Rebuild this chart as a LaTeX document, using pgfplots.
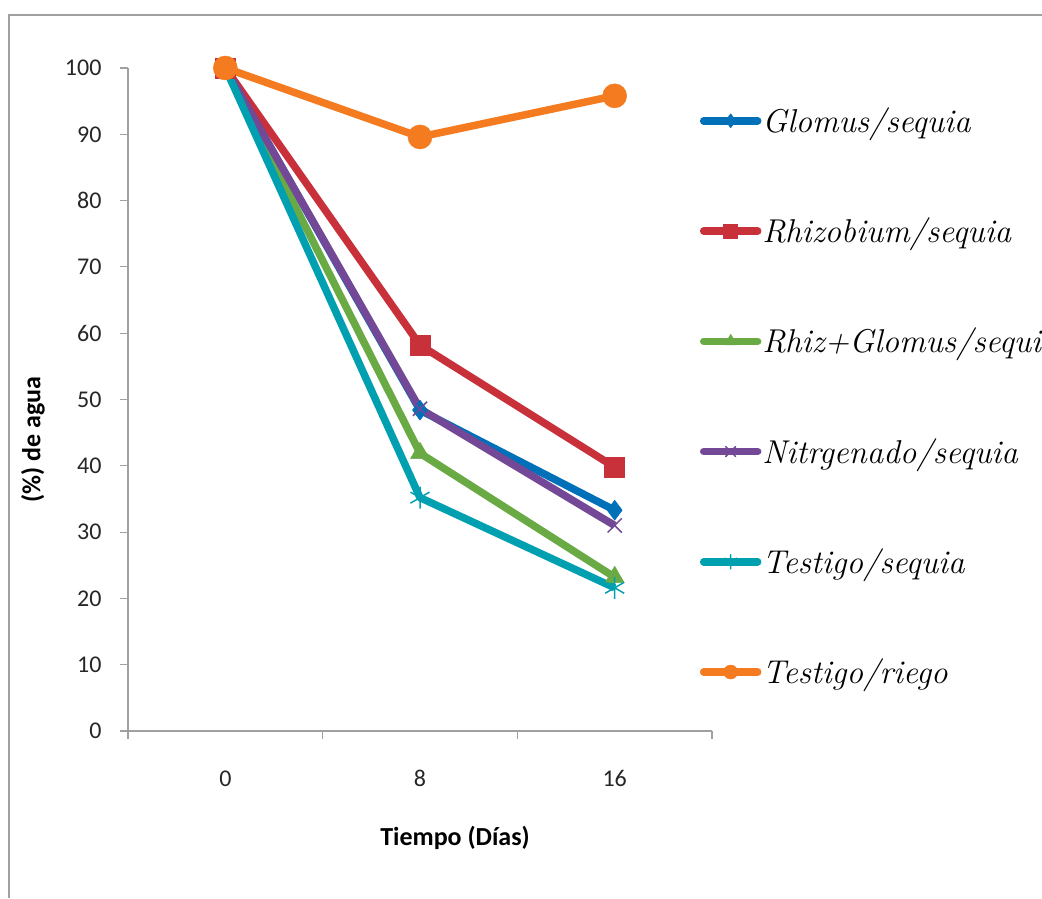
\documentclass[border=0pt]{standalone}
\usepackage{fontspec}
\usepackage{pgfplots}
\pgfplotsset{compat=1.18}
\usetikzlibrary{plotmarks}
\newfontfamily\carlito{Carlito}
\definecolor{cBlue}{HTML}{0070B8}
\definecolor{cRed}{HTML}{C8303A}
\definecolor{cGreen}{HTML}{6AAA45}
\definecolor{cPurple}{HTML}{734896}
\definecolor{cTeal}{HTML}{00A0B0}
\definecolor{cOrange}{HTML}{F47B20}
\definecolor{axgray}{HTML}{A0A0A0}
\begin{document}
\begin{tikzpicture}[x=1pt,y=1pt]
\useasboundingbox (0,0) rectangle (1042,898);
\draw[axgray, line width=1.6pt] (9,0) -- (9,883) -- (1042,883);
\begin{axis}[
  at={(128pt,167pt)}, anchor=south west,
  scale only axis, width=584pt, height=663pt,
  xmin=-0.5, xmax=2.5, ymin=0, ymax=100,
  axis x line*=bottom, axis y line*=left,
  axis line style={axgray, line width=1.2pt},
  xtick={-0.5,0.5,1.5,2.5}, xticklabels={},
  extra x ticks={0,1,2}, extra x tick labels={0,8,16},
  extra x tick style={major tick length=0pt, tick label style={yshift=-36pt}},
  ytick={0,10,...,100},
  tick style={axgray, line width=1.2pt},
  major tick length=8pt,
  tick align=outside,
  /pgf/number format/assume math mode=true,
  tick label style={font=\carlito\fontsize{24}{28}\selectfont, text=black!85},
  yticklabel style={xshift=-15pt},
  xlabel={\carlito\bfseries\fontsize{26}{30}\selectfont Tiempo (Días)},
  ylabel={\carlito\bfseries\fontsize{26}{30}\selectfont (\%) de agua},
  xlabel style={at={(axis description cs:0.56,-0.161)}, anchor=center},
  ylabel style={at={(axis description cs:-0.163,0.44)}, anchor=center, rotate=0},
  legend style={at={(rel axis cs:0.979,0.942)}, anchor=north west, draw=none, fill=none,
    inner sep=0pt, row sep=82pt, font=\itshape\fontsize{33}{37}\selectfont,
    nodes={inner sep=1pt}},
  legend cell align=left,
  legend image code/.code={\draw[#1, line cap=round, mark repeat=2, mark phase=2, mark size=7pt] plot coordinates {(0pt,0pt) (27pt,0pt) (54pt,0pt)};},
  every axis plot/.append style={line width=7.5pt, line join=round},
]
\addplot[cBlue, mark=diamond*, mark size=10pt, mark options={line width=0.5pt, fill=cBlue}] coordinates {(0,100) (1,48.4) (2,33.3)};
\addlegendentry{Glomus/sequia}
\addplot[cRed, mark=square*, mark size=10pt, mark options={line width=0.5pt, fill=cRed}] coordinates {(0,100) (1,58.2) (2,39.8)};
\addlegendentry{Rhizobium/sequia}
\addplot[cGreen, mark=triangle*, mark size=11pt, mark options={line width=0.5pt, fill=cGreen}] coordinates {(0,100) (1,41.9) (2,23.2)};
\addlegendentry{Rhiz+Glomus/sequia}
\addplot[cPurple, mark=x, mark size=10pt, mark options={line width=1.5pt}] coordinates {(0,100) (1,48.6) (2,31.0)};
\addlegendentry{Nitrgenado/sequia}
\addplot[cTeal, mark=asterisk, mark size=11pt, mark options={line width=1.5pt}] coordinates {(0,100) (1,35.2) (2,21.6)};
\addlegendentry{Testigo/sequia}
\addplot[cOrange, mark=*, mark size=12pt, mark options={line width=0.5pt, fill=cOrange}] coordinates {(0,100) (1,89.6) (2,95.8)};
\addlegendentry{Testigo/riego}
\end{axis}
\end{tikzpicture}
\end{document}
